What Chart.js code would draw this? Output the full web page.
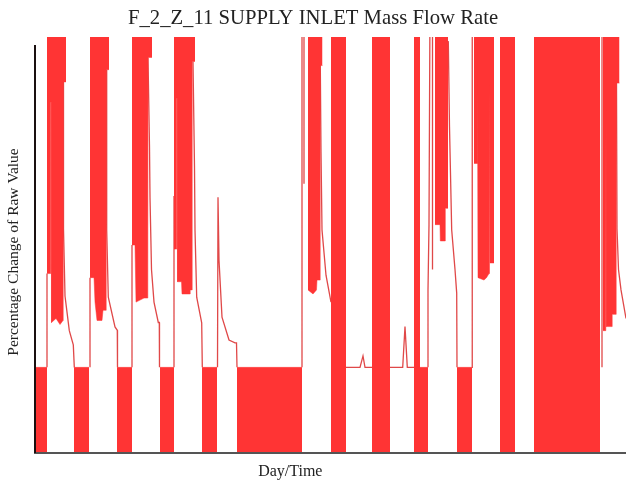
<!DOCTYPE html>
<html>
<head>
<meta charset="utf-8">
<script src="https://cdn.jsdelivr.net/npm/chart.js@4/dist/chart.umd.min.js"></script>
<style>
  html, body { margin: 0; padding: 0; background: #ffffff; }
  #wrap { width: 626px; height: 487px; }
</style>
</head>
<body>
<div id="wrap"><canvas id="c" width="626" height="487"></canvas></div>
<script>
// ---- chart text ----
const chartTitle = "F_2_Z_11 SUPPLY INLET Mass Flow Rate";
const yAxisTitle = "Percentage Change of Raw Value";
const xAxisTitle = "Day/Time";

// ---- values (time index on x, percentage change on y) ----
const baseLevel = 21;    // resting level of the signal
const peakLevel = 110;   // oscillation peaks run off the top of the plot

// stretches where the signal oscillates between 0 and the resting level
const lowBands = [[0,12],[39,54],[82,97],[125,139],[167,182],[202,267],[381,393],[422,437]];

// stretches where the signal oscillates between 0 and the peaks
const fullBands = [[296,311],[337,355],[379,385],[465,480],[499,565]];

// stretches where the signal oscillates between a trough envelope and the peaks
const bandA = [[12,44],[15.5,44],[15.7,86],[16.3,86],[16.5,32],[21,33],[25,31.5],[28,32.5],[28.2,91],[31,91]];
const bandB = [[55,43],[59,43],[60,37],[62,32.5],[67,32.5],[68,35],[71,35],[71.2,94],[74,94]];
const bandC = [[97,51],[100,51],[101,37],[105,37.5],[109,38],[112.8,38],[113,97],[117,97]];
const bandD = [[139,50],[141.5,50],[141.7,87],[142.3,87],[142.5,42],[146.5,42],[147,39],[155,39],[155.2,40],[157,40],[157.2,96],[160,96]];
const bandE = [[273,40],[278,39],[281.5,40],[282,42.4],[285,42.4],[285.2,95],[287.5,95]];
const bandF = [[400,56],[405,56],[405.3,52],[410,52],[410.3,60],[413,60]];
const bandG = [[439,71],[442,71],[442.2,90],[442.8,90],[443,43],[449,42.4],[451.5,43],[454,44],[454.2,90],[454.8,90],[455,46.6],[459,46.6]];
const bandH = [[568,30],[570.8,30],[571,84],[571.4,84],[571.6,31],[577,31],[577.2,34],[581,34],[581.2,90.7],[584.5,90.7]];
const highBands = [bandA, bandB, bandC, bandD, bandE, bandF, bandG, bandH];

// single-valued parts of the trace: rises, decays, resting level, spikes
const traceRuns = [
  [[12,21],[12,44]],
  [[28.3,91],[28.5,55],[30,38.5],[34.3,30],[38.3,26.5],[39.3,21]],
  [[55,21],[55,43]],
  [[71.5,94],[71.7,54.7],[73.3,38.2],[80,30.9],[82.3,30.1],[82.5,21]],
  [[97,21],[97,51]],
  [[113,97],[114.5,75],[115,62.7],[116.5,45],[119,37],[123.3,32],[124.3,32],[124.5,21]],
  [[139,21],[139,63]],
  [[158,96],[159.5,70],[160,54.7],[161.7,38.2],[166.7,31.9],[167.3,21]],
  [[182.5,21],[183,62.7],[184,47.3],[187,33.3],[194,27.7],[200,27],[201.5,27],[202,21]],
  [[267,21],[267,110]],
  [[269,66],[269,110]],
  [[285.2,98],[286,74],[287,54.7],[291,43.6],[296,37]],
  [[311,21],[325,21],[328,23.8],[330,21],[337,21]],
  [[355,21],[367.7,21],[370,31],[372.3,21],[379,21]],
  [[393,21],[393,40],[394,56],[395,110]],
  [[397.5,45],[397.5,110]],
  [[413.3,101],[414.5,80],[416.7,54.7],[420,45],[421.7,39.2],[422,21]],
  [[437,21],[437,71],[437.5,110]],
  [[567,21],[567,110]],
  [[581.5,90.7],[582,55],[583.5,45],[586,40],[591,33]]
];

// ---- build library data ----
function bandsToPoints(bands, level) {
  const pts = [];
  bands.forEach(([a, b]) => {
    pts.push({x: a, y: level}, {x: b, y: level}, {x: b, y: null});
  });
  return pts;
}
function runsToPoints(runs) {
  const pts = [];
  runs.forEach(run => {
    run.forEach(([x, y]) => pts.push({x, y}));
    pts.push({x: run[run.length - 1][0], y: null});
  });
  return pts;
}

const RED_FILL = '#ff3434';
const RED_LINE = 'rgba(222, 62, 62, 0.95)';
const SERIF = '"Liberation Serif", "Times New Roman", serif';

// axis titles (placed as in the original) and the left axis line,
// which starts a little below the top of the plotting area
const axisDecor = {
  id: 'axisDecor',
  afterDraw(chart) {
    const {ctx, chartArea} = chart;
    ctx.save();
    ctx.strokeStyle = '#1a1010';
    ctx.lineWidth = 2;
    ctx.beginPath();
    ctx.moveTo(chartArea.left, chartArea.top + 8);
    ctx.lineTo(chartArea.left, chartArea.bottom);
    ctx.stroke();

    ctx.fillStyle = '#222';
    ctx.textAlign = 'center';
    ctx.textBaseline = 'middle';
    ctx.font = '16px ' + SERIF;
    ctx.fillText(xAxisTitle, chartArea.left + (chartArea.right - chartArea.left) * 0.432, chartArea.bottom + 19);

    ctx.font = '15.5px ' + SERIF;
    ctx.translate(chartArea.left - 21, (chartArea.top + chartArea.bottom) / 2 + 7);
    ctx.rotate(-Math.PI / 2);
    ctx.fillText(yAxisTitle, 0, 0);
    ctx.restore();
  }
};

new Chart(document.getElementById('c'), {
  type: 'line',
  data: {
    datasets: [
      { label: 'low', data: bandsToPoints(lowBands, baseLevel), fill: 'origin',
        backgroundColor: RED_FILL, borderColor: RED_FILL, borderWidth: 0.5, pointRadius: 0 },
      { label: 'full', data: bandsToPoints(fullBands, peakLevel), fill: 'origin',
        backgroundColor: RED_FILL, borderColor: RED_FILL, borderWidth: 0.5, pointRadius: 0 },
      { label: 'high', data: runsToPoints(highBands), fill: {value: peakLevel},
        backgroundColor: RED_FILL, borderColor: RED_FILL, borderWidth: 0.5, pointRadius: 0 },
      { label: 'trace', data: runsToPoints(traceRuns), fill: false,
        borderColor: RED_LINE, borderWidth: 1.3, pointRadius: 0 }
    ]
  },
  options: {
    responsive: false,
    animation: false,
    devicePixelRatio: 1,
    spanGaps: false,
    layout: { padding: { left: 0, right: 0, top: 0, bottom: 34 } },
    plugins: {
      legend: { display: false },
      tooltip: { enabled: false },
      title: {
        display: true, text: chartTitle, color: '#222',
        font: { family: SERIF, size: 20.7, weight: 'normal' },
        padding: { top: 6, bottom: 6.2 }
      }
    },
    scales: {
      x: {
        type: 'linear', min: 0, max: 591,
        ticks: { display: false },
        grid: { display: false, drawTicks: false },
        border: { display: true, color: '#555', width: 2, z: 1 },
        title: { display: false }
      },
      y: {
        type: 'linear', min: 0, max: 102,
        ticks: { display: false },
        grid: { display: false, drawTicks: false },
        border: { display: false },
        title: { display: false },
        afterFit(scale) { scale.width = 35; }
      }
    }
  },
  plugins: [axisDecor]
});
</script>
</body>
</html>
